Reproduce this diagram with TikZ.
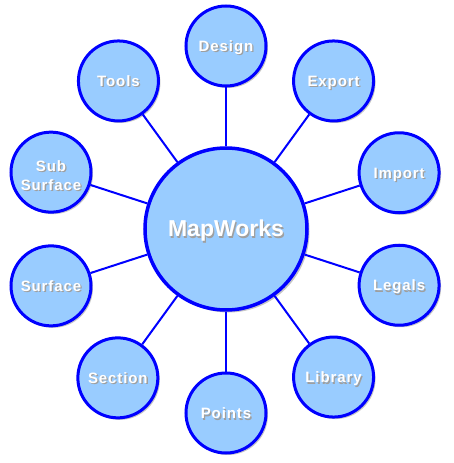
\documentclass[tikz,border=0pt]{standalone}
\usepackage{fontspec}
\setmainfont{Liberation Sans}
\newfontfamily\satfont[LetterSpace=6]{Liberation Sans}
\usetikzlibrary{shadows,positioning}
\definecolor{bubble}{HTML}{99CCFF}
\definecolor{rim}{HTML}{0000FF}
\newcommand{\boxedtext}[1]{\begin{tabular}{@{}c@{}}#1\end{tabular}}
\newcommand{\shadowed}[2][-5.5pt]{\leavevmode\raisebox{#1}[0pt][0pt]{\rlap{\hspace{1.3pt}\raisebox{-1.3pt}{\color{gray!75}\boxedtext{#2}}}{\color{white}\boxedtext{#2}}}}
\tikzstyle{hub} = [draw=rim, fill=bubble, circle, line width=3.5pt, minimum size=162pt, inner sep=0pt,
  font=\fontsize{23}{26}\selectfont\bfseries,
  drop shadow={shadow xshift=2.5pt, shadow yshift=-2.5pt, opacity=1, fill=gray!45}]
\tikzstyle{sat} = [draw=rim, fill=bubble, circle, line width=3pt, minimum size=80pt, inner sep=0pt,
  font=\satfont\fontsize{15}{19}\selectfont\bfseries,
  drop shadow={shadow xshift=2pt, shadow yshift=-2pt, opacity=1, fill=gray!45}]
\tikzstyle{link} = [draw=rim, line width=2pt]

\begin{document}
\begin{tikzpicture}
    \useasboundingbox (-226pt,229pt) rectangle (228pt,-234pt);
    % Centre
    \node [hub] (mapworks) at (0,0) {\shadowed[-9pt]{MapWorks}};
    % Satellites
    \node [sat] (design) at (90:183pt) {\shadowed{Design}};
    \node [sat] (export) at (54:183pt) {\shadowed{Export}};
    \node [sat] (import) at (18:182pt) {\shadowed{Import}};
    \node [sat] (legals) at (-18:182pt) {\shadowed{Legals}};
    \node [sat] (library) at (-54:183pt) {\shadowed{Library}};
    \node [sat] (points) at (-90:184pt) {\shadowed{Points}};
    \node [sat] (section) at (-126:184pt) {\shadowed{Section}};
    \node [sat] (surface) at (-162:184pt) {\shadowed{Surface}};
    \node [sat] (subsurface) at (162:184pt) {\shadowed[-8.5pt]{Sub\\Surface}};
    \node [sat] (tools) at (126:183pt) {\shadowed{Tools}};
    % Spokes
    \foreach \sat in {design,export,import,legals,library,points,section,surface,subsurface,tools}
        \draw [link] (mapworks) -- (\sat);
\end{tikzpicture}
\end{document}
